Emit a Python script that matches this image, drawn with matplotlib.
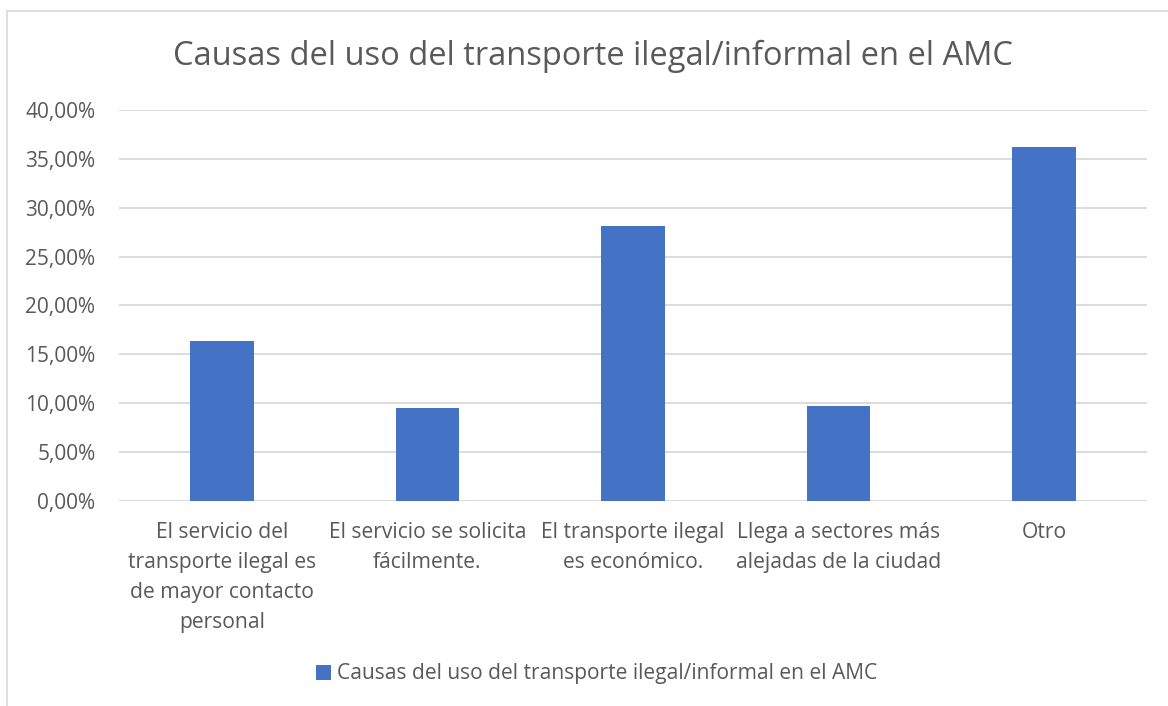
import matplotlib
matplotlib.use("Agg")
import matplotlib.pyplot as plt
from matplotlib.lines import Line2D
from matplotlib.patches import Patch
from matplotlib.ticker import FuncFormatter, MultipleLocator

# data
categories = [
    "El servicio del\ntransporte ilegal es\nde mayor contacto\npersonal",
    "El servicio se solicita\nfácilmente.",
    "El transporte ilegal\nes económico.",
    "Llega a sectores más\nalejadas de la ciudad",
    "Otro",
]
shares = [0.1633, 0.0953, 0.2813, 0.0966, 0.3620]
series_name = "Causas del uso del transporte ilegal/informal en el AMC"
title = "Causas del uso del transporte ilegal/informal en el AMC"

BAR_COLOR = "#4472C4"
TEXT_COLOR = "#595959"
GRID_COLOR = "#D9D9D9"
FONT = ["Open Sans", "DejaVu Sans"]

W, H = 1168, 706
plt.rcParams["font.family"] = FONT

fig = plt.figure(figsize=(W / 100, H / 100), dpi=100)
fig.patch.set_facecolor("white")

# chart-area border (cropped at right and bottom in the reference)
fig.add_artist(Line2D([7 / W, 1.0], [1 - 11 / H, 1 - 11 / H], color=GRID_COLOR, lw=1.2))
fig.add_artist(Line2D([7 / W, 7 / W], [1 - 11 / H, 0.0], color=GRID_COLOR, lw=1.2))

left, right, top, bottom = 119, 1147, 110, 500.7
ax = fig.add_axes([left / W, 1 - bottom / H, (right - left) / W, (bottom - top) / H])

x = list(range(len(categories)))
ax.bar(x, shares, width=0.31, color=BAR_COLOR, zorder=3)

ax.set_ylim(0, 0.40)
ax.set_xlim(-0.5, len(categories) - 0.5)
ax.yaxis.set_major_locator(MultipleLocator(0.05))
ax.yaxis.set_major_formatter(FuncFormatter(lambda v, _: f"{v * 100:.2f}%".replace(".", ",")))
ax.grid(axis="y", color=GRID_COLOR, lw=1.3, zorder=0)
ax.set_axisbelow(True)
for s in ax.spines.values():
    s.set_visible(False)
ax.tick_params(axis="y", length=0, pad=17, labelsize=15, labelcolor=TEXT_COLOR)
ax.tick_params(axis="x", length=0, pad=15, labelsize=15.2, labelcolor=TEXT_COLOR)
ax.set_xticks(x)
ax.set_xticklabels(categories, linespacing=1.58, va="top")

fig.text(593 / W, 1 - 56 / H, title, ha="center", va="center",
         fontsize=23.5, color=TEXT_COLOR)

handle = Patch(facecolor=BAR_COLOR, edgecolor="none")
fig.legend([handle], [series_name], loc="center", bbox_to_anchor=(597 / W, 1 - 674 / H),
           frameon=False, fontsize=15.1, labelcolor=TEXT_COLOR,
           handlelength=0.7, handleheight=0.7, handletextpad=0.3)

fig.savefig("out.png", dpi=100)
